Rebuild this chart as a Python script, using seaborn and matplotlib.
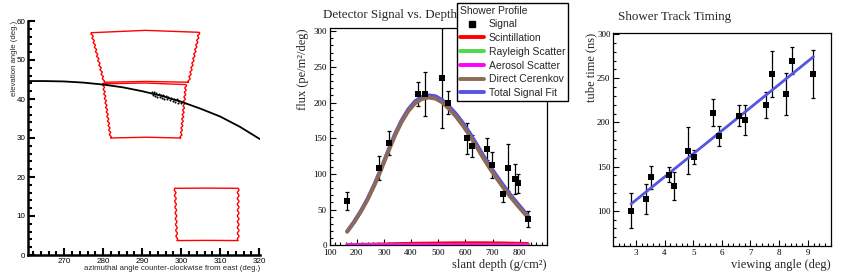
import numpy as np
import matplotlib
matplotlib.use("Agg")
import matplotlib.pyplot as plt
from matplotlib.lines import Line2D
from matplotlib.ticker import MultipleLocator
import seaborn as sns

# ---- left panel: shower track across the telescope fields of view
track_az = [260.9, 265, 270, 275, 280, 285, 290, 295, 300, 305, 310, 315, 320.2]
track_el = [44.6, 44.6, 44.5, 44.2, 43.7, 43.0, 42.0, 40.8, 39.3, 37.5, 35.5, 32.9, 29.7]
hit_az = [292.4, 292.7, 293.0, 293.3, 293.6, 293.9, 294.2, 294.5, 294.8, 295.1, 295.4, 295.7,
          296.0, 296.4, 296.7, 297.1, 297.4, 297.8, 298.1, 298.5, 298.8, 299.2, 299.5, 299.9]
hit_el = [41.8, 40.9, 41.7, 40.8, 41.5, 40.6, 41.3, 40.4, 41.1, 40.2, 40.9, 40.0,
          40.7, 39.9, 40.5, 39.7, 40.3, 39.5, 40.1, 39.3, 39.9, 39.1, 39.6, 38.9]

# corners: top-left, top-mid, top-right, bottom-right, bottom-mid, bottom-left
fov_upper_az = [277.0, 290.8, 304.6, 301.9, 291.0, 280.2]
fov_upper_el = [57.0, 57.6, 57.1, 44.3, 44.5, 44.3]
fov_mid_az = [280.0, 290.6, 301.2, 299.9, 290.9, 281.9]
fov_mid_el = [43.9, 44.1, 43.7, 30.0, 30.2, 30.0]
fov_low_az = [298.4, 306.5, 314.6, 314.6, 306.7, 298.9]
fov_low_el = [17.1, 17.15, 17.1, 3.7, 3.75, 3.7]

# ---- middle panel: shower profile
sig_depth = [164.8, 283.5, 317.7, 424.2, 452.3, 513.5, 534.2, 605.0, 623.5, 681.0,
             699.4, 739.8, 755.7, 783.8, 794.8, 829.0]
sig_flux = [62.5, 107.8, 143.7, 211.9, 211.9, 234.0, 199.7, 149.8, 139.0, 134.9,
            112.5, 71.4, 108.7, 92.4, 86.8, 36.9]
sig_err = [12.4, 17.0, 17.0, 17.0, 31.0, 70.0, 16.3, 21.5, 15.0, 15.0,
           18.0, 11.0, 33.0, 21.0, 13.0, 11.0]

fit_depth = [165, 190, 215, 240, 265, 290, 315, 340, 365, 390, 415, 440, 465, 490,
             515, 540, 565, 590, 615, 640, 665, 690, 715, 740, 765, 790, 815, 829]
cerenkov = [19.0, 32.0, 47.0, 64.0, 84.0, 106.0, 130.0, 153.0, 172.5, 188.0, 199.0,
            205.0, 207.0, 205.5, 200.0, 191.0, 180.5, 168.0, 154.0, 138.5, 122.5,
            107.5, 93.8, 80.5, 68.0, 56.5, 45.5, 39.5]
scint = [0.4, 0.5, 0.7, 0.8, 1.0, 1.2, 1.4, 1.6, 1.8, 2.0, 2.2, 2.3, 2.4, 2.5,
         2.6, 2.7, 2.8, 2.8, 2.9, 2.9, 2.9, 2.8, 2.7, 2.6, 2.4, 2.2, 2.0, 1.8]
rayleigh = [0.1, 0.1, 0.1, 0.2, 0.2, 0.2, 0.3, 0.3, 0.3, 0.4, 0.4, 0.4, 0.4, 0.5,
            0.5, 0.5, 0.5, 0.5, 0.5, 0.5, 0.4, 0.4, 0.4, 0.4, 0.3, 0.3, 0.3, 0.3]
aerosol = [0.1, 0.1, 0.1, 0.1, 0.1, 0.2, 0.2, 0.2, 0.2, 0.2, 0.2, 0.2, 0.3, 0.3,
           0.3, 0.3, 0.3, 0.3, 0.3, 0.3, 0.3, 0.2, 0.2, 0.2, 0.2, 0.2, 0.2, 0.2]
total_fit = [c + s + r + a for c, s, r, a in zip(cerenkov, scint, rayleigh, aerosol)]

# ---- right panel: timing fit
view_angle = [2.83, 3.34, 3.52, 4.15, 4.34, 4.81, 5.02, 5.69, 5.90, 6.60,
              6.81, 7.53, 7.74, 8.23, 8.45, 9.17]
tube_time = [100.0, 113.6, 137.9, 141.0, 128.0, 168.0, 160.6, 211.0, 185.0, 207.6,
             203.0, 219.7, 255.0, 232.0, 270.0, 255.0]
time_err = [20.0, 17.0, 13.0, 8.0, 15.5, 26.5, 8.0, 15.5, 11.5, 12.0,
            17.0, 15.0, 26.5, 23.6, 15.0, 27.6]
fit_angle = [2.83, 9.2]
fit_time = [107.6, 274.5]

RED = "#ff0000"
GREEN = "#4cd94c"
MAGENTA = "#ff00ff"
BROWN = "#8c6a5a"
BLUE = "#5555e0"
SANS = "Liberation Sans"
SERIF = "Liberation Serif"


def wavy(x0, y0, x1, y1, n_waves, amp=0.2):
    t = np.linspace(0, 1, n_waves * 10 + 1)
    return x0 + (x1 - x0) * t + amp * np.sin(2 * np.pi * n_waves * t), y0 + (y1 - y0) * t


def fov_outline(az, el, n_waves):
    xs, ys = list(az[:3]), list(el[:3])
    wx, wy = wavy(az[2], el[2], az[3], el[3], n_waves)
    xs += list(wx[1:]); ys += list(wy[1:])
    xs += az[4:6]; ys += el[4:6]
    wx, wy = wavy(az[5], el[5], az[0], el[0], n_waves)
    xs += list(wx[1:]); ys += list(wy[1:])
    return xs, ys


sns.set_style("ticks", {"axes.edgecolor": "black", "xtick.color": "black",
                        "ytick.color": "black"})
plt.rcParams["font.family"] = [SERIF, "DejaVu Serif"]

fig = plt.figure(figsize=(8.67, 2.77), dpi=100)
W, H = 867, 277

# ================= left panel
ax1 = fig.add_axes([28.3 / W, 1 - 255 / H, 231.7 / W, 234 / H])
for az, el, nw in [(fov_upper_az, fov_upper_el, 11), (fov_mid_az, fov_mid_el, 12),
                   (fov_low_az, fov_low_el, 9)]:
    xs, ys = fov_outline(az, el, nw)
    sns.lineplot(x=xs, y=ys, ax=ax1, sort=False, estimator=None, color=RED, lw=1.0)
sns.lineplot(x=track_az, y=track_el, ax=ax1, sort=False, estimator=None,
             color="black", lw=1.3)
sns.scatterplot(x=hit_az, y=hit_el, ax=ax1, color="black", s=2.2, linewidth=0, marker="o")
ax1.set_xlim(260.8, 320.2)
ax1.set_ylim(0, 60)
for s in ["top", "right"]:
    ax1.spines[s].set_visible(False)
for s in ["left", "bottom"]:
    ax1.spines[s].set_linewidth(1.8)
ax1.xaxis.set_major_locator(MultipleLocator(10))
ax1.xaxis.set_minor_locator(MultipleLocator(2))
ax1.yaxis.set_major_locator(MultipleLocator(10))
ax1.yaxis.set_minor_locator(MultipleLocator(2))
ax1.tick_params(which="major", direction="in", length=5, width=1.5, labelsize=5.8, pad=2)
ax1.tick_params(which="minor", direction="in", length=2.8, width=1.5)
for lab in ax1.get_xticklabels() + ax1.get_yticklabels():
    lab.set_fontfamily(SANS)
ax1.set_xlabel("azimuthal angle counter-clockwise from east (deg.)", loc="right",
               fontsize=5.6, fontfamily=SANS)
ax1.set_ylabel("elevation angle (deg.)", loc="top", fontsize=5.6, fontfamily=SANS)
ax1.xaxis.set_label_coords(1.0, -0.043)
ax1.yaxis.set_label_coords(-0.044, 1.0)

# ================= middle panel
ax2 = fig.add_axes([329.5 / W, 1 - 245.3 / H, 217.5 / W, 217 / H])
ax2.errorbar(sig_depth, sig_flux, yerr=sig_err, fmt="none", ecolor="black",
             elinewidth=0.9, capsize=1.3, capthick=0.9, zorder=2)
sns.lineplot(x=fit_depth, y=total_fit, ax=ax2, sort=False, estimator=None,
             color=BLUE, lw=2.8, zorder=3)
sns.lineplot(x=fit_depth, y=cerenkov, ax=ax2, sort=False, estimator=None,
             color=BROWN, lw=2.8, zorder=3)
sns.lineplot(x=fit_depth, y=scint, ax=ax2, sort=False, estimator=None,
             color=RED, lw=2.8, zorder=3)
sns.lineplot(x=fit_depth, y=rayleigh, ax=ax2, sort=False, estimator=None,
             color=GREEN, lw=2.8, zorder=3)
sns.lineplot(x=fit_depth, y=aerosol, ax=ax2, sort=False, estimator=None,
             color=MAGENTA, lw=2.8, zorder=3)
sns.scatterplot(x=sig_depth, y=sig_flux, ax=ax2, marker="s", s=20, color="black",
                linewidth=0, zorder=4)
ax2.set_xlim(100, 900)
ax2.set_ylim(0, 304)
ax2.xaxis.set_major_locator(MultipleLocator(100))
ax2.xaxis.set_minor_locator(MultipleLocator(20))
ax2.yaxis.set_major_locator(MultipleLocator(50))
ax2.yaxis.set_minor_locator(MultipleLocator(10))
ax2.set_xticks([100, 200, 300, 400, 500, 600, 700, 800])
ax2.set_xlabel("slant depth (g/cm²)", loc="right", fontsize=9)
ax2.set_ylabel("flux (pe/m²/deg)", loc="top", fontsize=9)
ax2.xaxis.set_label_coords(1.0, -0.065)
ax2.yaxis.set_label_coords(-0.094, 1.0)
fig.text(323 / W, 1 - 15 / H, "Detector Signal vs. Depth", fontsize=9.4, va="center",
         ha="left")

# ================= right panel
ax3 = fig.add_axes([613.3 / W, 1 - 246 / H, 217.4 / W, 212.7 / H])
ax3.errorbar(view_angle, tube_time, yerr=time_err, fmt="none", ecolor="black",
             elinewidth=0.9, capsize=1.3, capthick=0.9, zorder=2)
sns.lineplot(x=fit_angle, y=fit_time, ax=ax3, sort=False, estimator=None,
             color=BLUE, lw=2.0, zorder=3)
sns.scatterplot(x=view_angle, y=tube_time, ax=ax3, marker="s", s=20, color="black",
                linewidth=0, zorder=4)
ax3.set_xlim(2.21, 9.8)
ax3.set_ylim(60, 301)
ax3.xaxis.set_major_locator(MultipleLocator(1))
ax3.xaxis.set_minor_locator(MultipleLocator(0.2))
ax3.yaxis.set_major_locator(MultipleLocator(50))
ax3.yaxis.set_minor_locator(MultipleLocator(10))
ax3.set_yticks([100, 150, 200, 250, 300])
ax3.set_xlabel("viewing angle (deg)", loc="right", fontsize=9)
ax3.set_ylabel("tube time (ns)", loc="top", fontsize=9)
ax3.xaxis.set_label_coords(1.0, -0.061)
ax3.yaxis.set_label_coords(-0.073, 1.0)
fig.text(618 / W, 1 - 17 / H, "Shower Track Timing", fontsize=9.4, va="center", ha="left")

for ax in (ax2, ax3):
    for s in ax.spines.values():
        s.set_linewidth(0.9)
    ax.tick_params(which="major", direction="in", length=4.5, width=0.8, labelsize=6.5,
                   pad=2, top=False, right=False)
    ax.tick_params(which="minor", direction="in", length=2.2, width=0.8,
                   top=False, right=False)
ax2.tick_params(axis="x", which="major", pad=3)

# legend for the shower profile
handles = [
    Line2D([], [], ls="none", marker="s", color="black", markersize=4.5),
    Line2D([], [], color=RED, lw=2.8),
    Line2D([], [], color=GREEN, lw=2.8),
    Line2D([], [], color=MAGENTA, lw=2.8),
    Line2D([], [], color=BROWN, lw=2.8),
    Line2D([], [], color=BLUE, lw=2.8),
]
labels = ["Signal", "Scintillation", "Rayleigh Scatter", "Aerosol Scatter",
          "Direct Cerenkov", "Total Signal Fit"]
leg = fig.legend(handles, labels, title="Shower Profile", loc="upper left",
                 bbox_to_anchor=(457 / W, 1 - 3 / H), borderaxespad=0,
                 prop={"family": SANS, "size": 7.5},
                 title_fontproperties={"family": SANS, "size": 7.5},
                 alignment="left", frameon=True, fancybox=False, framealpha=1,
                 edgecolor="black", borderpad=0.25, labelspacing=0.36,
                 handlelength=2.3, handletextpad=0.5)
leg.get_frame().set_linewidth(1.0)
leg.set_zorder(10)

fig.savefig("out.png", dpi=100)
